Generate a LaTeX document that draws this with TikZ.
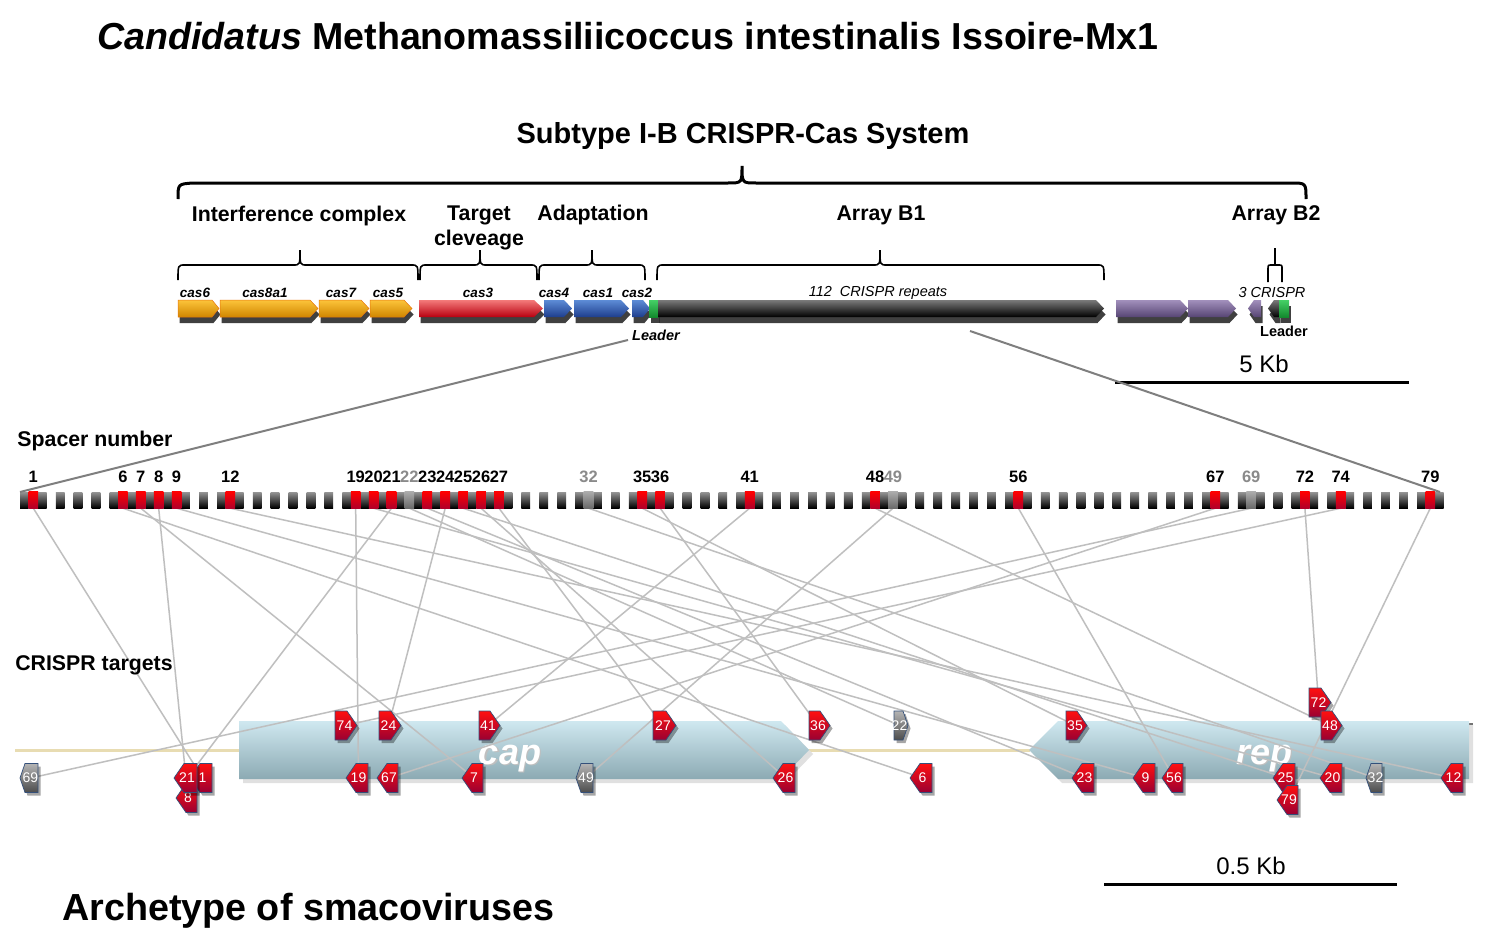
\documentclass[tikz,border=0pt]{standalone}
\usepackage{fontspec}
\setmainfont{Liberation Sans}
\usetikzlibrary{shadows}
\pgfdeclarelayer{back}
\pgfdeclarelayer{mid}
\pgfsetlayers{back,mid,main}
\definecolor{oraT}{HTML}{FCC43A}
\definecolor{oraB}{HTML}{D08600}
\definecolor{oraL}{HTML}{E8760E}
\definecolor{redT}{HTML}{F47A7A}
\definecolor{redM}{HTML}{FF0A0A}
\definecolor{redB}{HTML}{B80010}
\definecolor{bluT}{HTML}{5D8CD6}
\definecolor{bluB}{HTML}{1E3E8E}
\definecolor{blkT}{HTML}{7A7A7A}
\definecolor{purT}{HTML}{A290BC}
\definecolor{purB}{HTML}{574574}
\definecolor{grnT}{HTML}{45D066}
\definecolor{grnB}{HTML}{138A2E}
\definecolor{capT}{HTML}{CFE8F0}
\definecolor{capM}{HTML}{A6C9D3}
\definecolor{capB}{HTML}{8CAAB3}
\definecolor{tan}{HTML}{E8DCB2}
\definecolor{linkc}{HTML}{BFBFBF}
\definecolor{diagc}{HTML}{7F7F7F}
\definecolor{tRT}{HTML}{FF1010}
\definecolor{tRB}{HTML}{9A0032}
\definecolor{tGT}{HTML}{B4B4B4}
\definecolor{tGB}{HTML}{4C4C4C}
\definecolor{tBord}{HTML}{34507A}
\definecolor{spRT}{HTML}{FF0000}
\definecolor{spRB}{HTML}{B0002A}
\definecolor{spGT}{HTML}{ABABAB}
\definecolor{spGB}{HTML}{6A6A6A}
\definecolor{labgrey}{HTML}{8A8A8A}
\newcommand\fs[1]{\fontsize{#1}{#1}\selectfont}
\newcommand\garR[4]{\path[#4] (#1,300) -- ({#2-#3},300) -- (#2,308.5) -- ({#2-#3},317) -- (#1,317) -- cycle;}
\newcommand\garL[4]{\path[#4] (#2,300) -- ({#1+#3},300) -- (#1,308.5) -- ({#1+#3},317) -- (#2,317) -- cycle;}
\newcommand\tgR[6]{%
  \path[#6] (#2,#4-14.5) -- ({#3-#5},#4-14.5) -- (#3,#4) -- ({#3-#5},#4+14.5) -- (#2,#4+14.5) -- cycle;
  \node[tlab] (t#1) at ({(#2+#3)/2-1.5},#4) {#1};}
\newcommand\tgL[6]{%
  \path[#6] (#3,#4-14.5) -- ({#2+#5},#4-14.5) -- (#2,#4) -- ({#2+#5},#4+14.5) -- (#3,#4+14.5) -- cycle;
  \node[tlab] (t#1) at ({(#2+#3)/2+1.5},#4) {#1};}
\newcommand\sbrace[4]{\draw[brc] (#1,#4+15) .. controls (#1,#4) .. ({#1+7},#4) -- ({#2-7},#4) .. controls (#2,#4) .. (#2,#4-15) .. controls (#2,#4) .. ({#2+7},#4) -- ({#3-7},#4) .. controls (#3,#4) .. (#3,#4+15);}
\tikzset{
  gshadow/.style={drop shadow={shadow xshift=1.5pt,shadow yshift=-6pt,opacity=.75,fill=black}},
  gora/.style={top color=oraT,bottom color=oraB,draw=oraL,line width=.5pt,gshadow},
  gred/.style={top color=redT,middle color=redM,bottom color=redB,gshadow},
  gblue/.style={top color=bluT,bottom color=bluB,gshadow},
  gblack/.style={top color=blkT,bottom color=black,gshadow},
  gpurp/.style={top color=purT,bottom color=purB,gshadow},
  ggreen/.style={top color=grnT,bottom color=grnB,gshadow},
  brc/.style={line width=1.6pt,black},
  heading/.style={font=\fs{21.3}\bfseries,inner sep=0pt},
  glab/.style={font=\fs{13.5}\bfseries\itshape,inner sep=0pt},
  rptbox/.style={top color=blkT!80,bottom color=black,minimum width=8.7pt,minimum height=16pt,inner sep=0pt},
  spw/.style={minimum width=9.2pt,minimum height=16pt,inner sep=0pt},
  spred/.style={top color=spRT,bottom color=spRB},
  spgrey/.style={top color=spGT,bottom color=spGB},
  splab/.style={font=\fs{16.5}\bfseries,inner sep=0pt},
  tshadow/.style={drop shadow={shadow xshift=2.5pt,shadow yshift=-3pt,opacity=.35,fill=black}},
  tred/.style={top color=tRT,bottom color=tRB,draw=tBord,line width=.7pt,tshadow},
  tgrey/.style={top color=tGT,bottom color=tGB,draw=tBord,line width=.7pt,tshadow},
  tlab/.style={font=\fs{14},text=white,inner sep=0pt},
  genelab/.style={inner sep=0pt,font=\fs{36}\bfseries\itshape,anchor=base},
  link/.style={linkc,line width=1.5pt},
  diag/.style={diagc,line width=2pt},
  bar/.style={line width=3pt,black}
}
\begin{document}
\begin{tikzpicture}[x=1pt,y=-1pt]
\useasboundingbox (0,0) rectangle (1485,931);

% viral genome (bottom layer, white page first)
\begin{pgfonlayer}{back}
\fill[white] (0,0) rectangle (1485,931);
\draw[tan,line width=3pt] (15,750) -- (1030,750);
\fill[black!12] (243,725) -- (785,725) -- (813,754) -- (785,783) -- (243,783) -- cycle;
\path[top color=capT,middle color=capM,bottom color=capB] (239,721) -- (781,721) -- (809,750) -- (781,779) -- (239,779) -- cycle;
\fill[black!55] (1469,723) rectangle (1473,781);
\fill[black!12] (1033,754) -- (1062,725) -- (1473,725) -- (1473,783) -- (1062,783) -- cycle;
\path[top color=capT,middle color=capM,bottom color=capB] (1029,750) -- (1058,721) -- (1469,721) -- (1469,779) -- (1058,779) -- cycle;
\node[genelab,text=black!25] at (511.5,765.5) {cap};
\node[genelab,text=white] (capl) at (510,764) {cap};
\node[genelab,text=black!25] at (1265.5,765.5) {rep};
\node[genelab,text=white] (repl) at (1264,764) {rep};
\end{pgfonlayer}

% titles
\node[anchor=base west,inner sep=0pt,font=\fs{37.6}\bfseries] (title) at (97,50) {\textit{Candidatus} Methanomassiliicoccus intestinalis Issoire-Mx1};
\node[inner sep=0pt,font=\fs{29}\bfseries] (subtype) at (743,136) {Subtype I-B CRISPR-Cas System};
\node[anchor=base west,inner sep=0pt,font=\fs{37.7}\bfseries] (arch) at (62,920) {Archetype of smacoviruses};

% big brace
\draw[line width=3pt] (178,199) .. controls (178,184) .. (193,183) -- (728,183) .. controls (742,183) .. (742,166) .. controls (742,183) .. (756,183) -- (1291,183) .. controls (1306,183) .. (1306,199);

% headings
\node[heading] (hint) at (299,216) {Interference complex};
\node[heading,align=center] (htar) at (479,228) {Target\\[4pt]cleveage};
\node[heading] (hada) at (593,215) {Adaptation};
\node[heading] (hb1) at (881,215) {Array B1};
\node[heading] (hb2) at (1276,215) {Array B2};

% small braces
\sbrace{178}{300}{418}{265}
\sbrace{420}{480}{537}{265}
\sbrace{539}{592}{645}{265}
\sbrace{657}{880}{1104}{265}
\draw[brc] (1268,282) -- (1268,269) .. controls (1268,265) .. (1272,265) -- (1278,265) .. controls (1282,265) .. (1282,269) -- (1282,282);
\draw[brc] (1275,248) -- (1275,265);

% gene labels
\node[glab] at (195,293) {cas6};
\node[glab] at (265,293) {cas8a1};
\node[glab] at (341,293) {cas7};
\node[glab] at (388,293) {cas5};
\node[glab] at (478,293) {cas3};
\node[glab] at (554,293) {cas4};
\node[glab] at (598,293) {cas1};
\node[glab] at (637,293) {cas2};
\node[inner sep=0pt,font=\fs{14.5}\itshape] at (878,293) {112\ \ CRISPR repeats};
\node[inner sep=0pt,font=\fs{14.5}\itshape] at (1272,293) {3 CRISPR};

% gene track
\garR{178}{219}{7}{gora}
\garR{220}{318}{8}{gora}
\garR{319}{369}{8}{gora}
\garR{370}{412}{8}{gora}
\garR{419}{543}{9}{gred}
\garR{544}{572}{8}{gblue}
\garR{574}{629}{8}{gblue}
\garR{632}{650}{7}{gblue}
\path[ggreen] (649,300) rectangle (658,317);
\garR{658}{1104}{8}{gblack}
\garR{1116}{1188}{8}{gpurp}
\garR{1188}{1236}{8}{gpurp}
\garL{1248}{1261}{6}{gpurp}
\garL{1268}{1279}{6}{gblack}
\path[ggreen] (1279,300) rectangle (1289,317);

\node[glab,font=\fs{14.5}\bfseries\itshape] (lead1) at (656,335) {Leader};
\node[inner sep=0pt,font=\fs{14.5}\bfseries] (lead2) at (1284,331) {Leader};

% scale bars
\draw[bar] (1115,382) -- (1409,382);
\node[inner sep=0pt,font=\fs{24}] at (1264,364) {5 Kb};
\draw[bar] (1104,884) -- (1397,884);
\node[inner sep=0pt,font=\fs{24}] at (1251,866) {0.5 Kb};

% section labels
\node[heading] (hsp) at (95,441) {Spacer number};
\node[heading] (hct) at (94,665) {CRISPR targets};

% repeats and spacers
\foreach \k in {0,...,79} {
  \pgfmathsetmacro\xx{24.35+\k*17.91}
  \node[rptbox] at (\xx,500) {};
}
\foreach \n in {1,...,79} {
  \pgfmathsetmacro\xx{33.3+(\n-1)*17.91}
  \node[spw] (s\n) at (\xx,500) {};
}
\foreach \n in {1,6,7,8,9,12,19,20,21,23,24,25,26,27,35,36,41,48,56,67,72,74,79} {
  \path[spred] (s\n.south west) rectangle (s\n.north east);
  \node[splab] at ([yshift=23pt]s\n.center) {\n};
}
\foreach \n in {22,32,49,69} {
  \path[spgrey] (s\n.south west) rectangle (s\n.north east);
  \node[splab,text=labgrey] at ([yshift=23pt]s\n.center) {\n};
}

% zoom lines
\coordinate (ldr) at (628,340);
\coordinate (arrL) at (20,492);
\coordinate (b1m) at (970,331);
\coordinate (arrR) at (1440,492);
\draw[diag] (ldr) -- (arrL);
\draw[diag] (b1m) -- (arrR);

% targets
\tgR{74}{335}{357}{725.5}{10}{tred}
\tgR{24}{379}{401}{725.5}{10}{tred}
\tgR{41}{479}{500}{725.5}{10}{tred}
\tgR{27}{653}{676}{725.5}{10}{tred}
\tgR{36}{809}{830}{725.5}{10}{tred}
\tgR{22}{894}{908}{725.5}{5}{tgrey}
\tgR{35}{1066}{1087}{725.5}{10}{tred}
\tgR{72}{1309}{1331}{702.5}{10}{tred}
\tgR{48}{1321}{1342}{725.5}{10}{tred}
\tgL{69}{20}{38}{778}{5}{tgrey}
\tgL{8}{176}{197}{798}{10}{tred}
\tgL{1}{190}{212}{778}{10}{tred}
\tgL{21}{174}{197}{778}{10}{tred}
\tgL{19}{346}{368}{778}{10}{tred}
\tgL{67}{377}{398}{778}{10}{tred}
\tgL{7}{462}{483}{778}{10}{tred}
\tgL{49}{576}{593}{778}{5}{tgrey}
\tgL{26}{773}{795}{778}{10}{tred}
\tgL{6}{910}{932}{778}{10}{tred}
\tgL{23}{1072}{1094}{778}{10}{tred}
\tgL{9}{1133}{1155}{778}{10}{tred}
\tgL{56}{1162}{1183}{778}{10}{tred}
\tgL{25}{1273}{1295}{778}{10}{tred}
\tgL{79}{1277}{1298}{800}{10}{tred}
\tgL{20}{1320}{1342}{778}{10}{tred}
\tgL{32}{1366}{1382}{778}{5}{tgrey}
\tgL{12}{1441}{1463}{778}{10}{tred}

% spacer-to-target links
\begin{pgfonlayer}{mid}
\foreach \n in {1,6,7,8,9,12,19,20,21,22,23,24,25,26,27,32,35,36,41,48,49,56,67,69,72,74,79} {
  \draw[link] (s\n.south) -- (t\n.center);
}
\end{pgfonlayer}
\end{tikzpicture}
\end{document}
